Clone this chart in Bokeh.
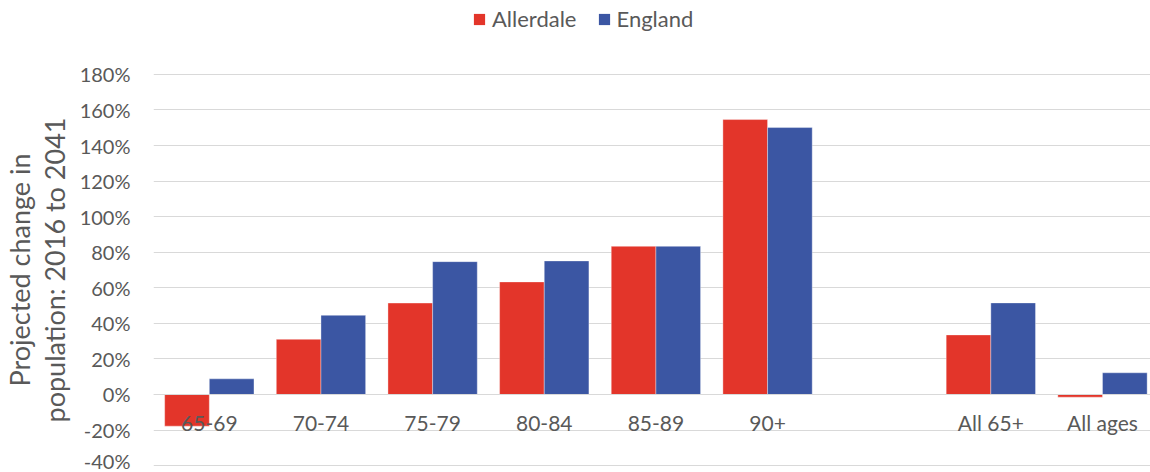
from bokeh.plotting import figure
from bokeh.layouts import column
from bokeh.models import Range1d, FixedTicker, Legend, LegendItem, ColumnDataSource
from bokeh.embed import file_html
from bokeh.resources import INLINE

categories = ["65-69", "70-74", "75-79", "80-84", "85-89", "90+", "", "All 65+", "All ages"]
allerdale = [-17.8, 31.0, 51.4, 63.3, 83.3, 154.6, None, 33.5, -1.5]
england = [8.8, 44.5, 74.7, 75.1, 83.3, 150.1, None, 51.5, 12.2]
series_names = ["Allerdale", "England"]
y_ticks = [-40, -20, 0, 20, 40, 60, 80, 100, 120, 140, 160, 180]

RED = "#E3352A"
BLUE = "#3B56A3"
TXT = "#595959"
FONT = "Lato"

idx = [i for i, v in enumerate(allerdale) if v is not None]
src_a = ColumnDataSource(dict(x=[i + 0.5 - 0.2 for i in idx], top=[allerdale[i] for i in idx]))
src_e = ColumnDataSource(dict(x=[i + 0.5 + 0.2 for i in idx], top=[england[i] for i in idx]))

# ---- legend strip on top (its bars are out of view; only the legend shows) ----
leg = figure(width=1150, height=50, output_backend="svg", toolbar_location=None,
             x_axis_location=None, y_axis_location=None,
             x_range=Range1d(-100, -99), y_range=Range1d(0, 1),
             min_border_left=0, min_border_right=0, min_border_top=0, min_border_bottom=0)
leg.outline_line_color = None
leg.xgrid.visible = False
leg.ygrid.visible = False
da = leg.vbar(x="x", top="top", width=0.4, source=src_a, fill_color=RED,
              line_color=None)
de = leg.vbar(x="x", top="top", width=0.4, source=src_e, fill_color=BLUE,
              line_color=None)
legend = Legend(items=[LegendItem(label=series_names[0], renderers=[da]),
                       LegendItem(label=series_names[1], renderers=[de])],
                orientation="horizontal", location=(319, 18),
                padding=0, margin=0, spacing=20, label_standoff=6,
                glyph_width=14, glyph_height=14, label_height=22,
                label_text_font=FONT, label_text_font_size="22px", label_text_color=TXT,
                border_line_color=None, background_fill_alpha=0)
leg.add_layout(legend, "center")

# ---- main chart ----
p = figure(width=1150, height=422, output_backend="svg", toolbar_location=None,
           x_range=Range1d(0, 8.93), y_range=Range1d(-40.5, 180.5),
           min_border_left=150, min_border_right=0, min_border_top=23, min_border_bottom=6)
p.outline_line_color = None
p.background_fill_color = "white"
p.border_fill_color = "white"

p.vbar(x="x", top="top", bottom=0, width=0.4, source=src_a, fill_color=RED,
       line_color="white", line_alpha=0.35, line_width=1)
p.vbar(x="x", top="top", bottom=0, width=0.4, source=src_e, fill_color=BLUE,
       line_color="white", line_alpha=0.35, line_width=1)

# y axis
p.yaxis.ticker = FixedTicker(ticks=y_ticks)
p.yaxis.major_label_overrides = {t: f"{t}%" for t in y_ticks}
p.yaxis.axis_line_color = None
p.yaxis.major_tick_line_color = None
p.yaxis.minor_tick_line_color = None
p.yaxis.major_tick_out = 0
p.yaxis.major_label_standoff = 23
p.yaxis.major_label_text_font = FONT
p.yaxis.major_label_text_font_size = "20px"
p.yaxis.major_label_text_color = TXT
p.yaxis.axis_label = "Projected change in\npopulation: 2016 to 2041"
p.yaxis.axis_label_text_font = FONT
p.yaxis.axis_label_text_font_size = "27px"
p.yaxis.axis_label_text_font_style = "normal"
p.yaxis.axis_label_text_color = TXT
p.yaxis.axis_label_text_line_height = 1.05
p.yaxis.axis_label_standoff = 6

# x axis at zero
p.xaxis.fixed_location = 0
p.xaxis.ticker = FixedTicker(ticks=[i + 0.5 for i in range(len(categories))])
p.xaxis.major_label_overrides = {i + 0.5: c for i, c in enumerate(categories)}
p.xaxis.axis_line_color = "#d9d9d9"
p.xaxis.axis_line_width = 1
p.xaxis.major_tick_line_color = None
p.xaxis.minor_tick_line_color = None
p.xaxis.major_tick_out = 0
p.xaxis.major_label_standoff = 16
p.xaxis.major_label_text_font = FONT
p.xaxis.major_label_text_font_size = "21px"
p.xaxis.major_label_text_color = TXT

p.xgrid.grid_line_color = None
p.ygrid.ticker = FixedTicker(ticks=y_ticks)
p.ygrid.grid_line_color = "#d9d9d9"
p.ygrid.grid_line_width = 1

open("out.html", "w").write(file_html(column(leg, p), INLINE))
